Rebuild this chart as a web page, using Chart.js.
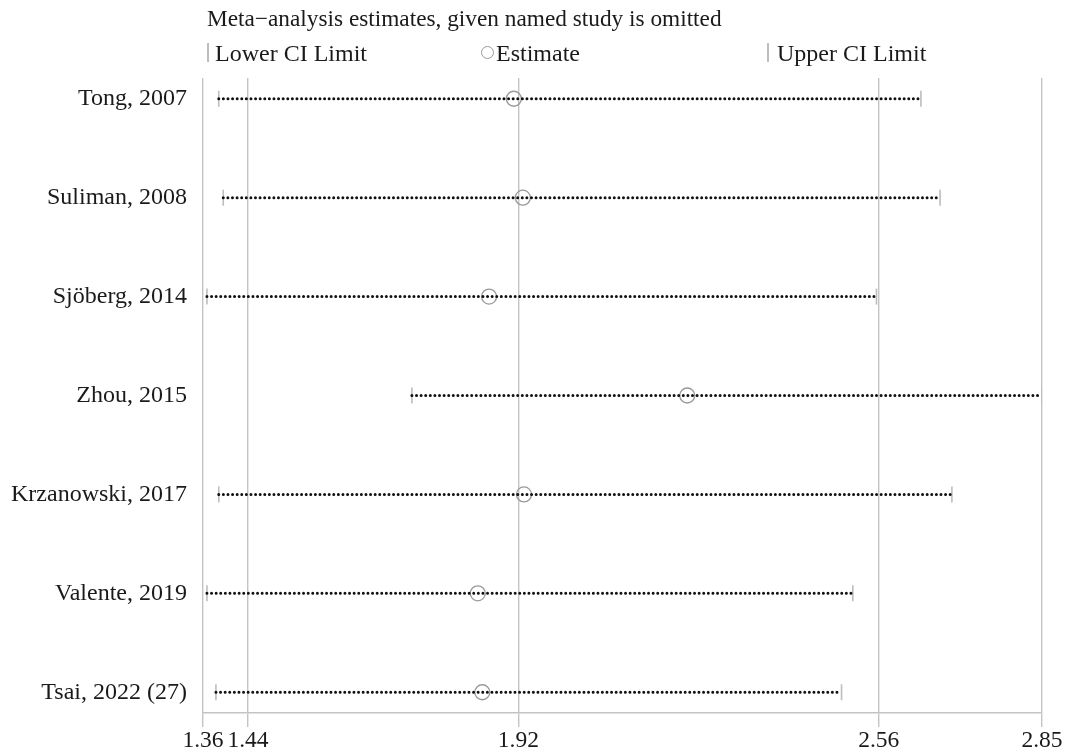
<!DOCTYPE html>
<html>
<head>
<meta charset="utf-8">
<script src="https://cdn.jsdelivr.net/npm/chart.js@4/dist/chart.umd.min.js"></script>
<style>
  html, body { margin: 0; padding: 0; background: #fff; }
  #wrap { position: relative; width: 1072px; height: 754px; }
  canvas { position: absolute; left: 0; top: 0; }
  .txt { position: absolute; font-family: "Liberation Serif", "Times New Roman", serif; color: #1a1a1a; white-space: nowrap; line-height: 1; }
  .bar { position: absolute; width: 1.5px; height: 19px; background: #bdbdbd; }
  .circ { position: absolute; width: 13px; height: 13px; border: 1.2px solid #999; border-radius: 50%; box-sizing: border-box; }
</style>
</head>
<body>
<div id="wrap">
  <canvas id="c" width="1072" height="754"></canvas>
  <div class="txt" style="left:207px; top:7px; font-size:23.3px;">Meta&minus;analysis estimates, given named study is omitted</div>
  <div class="bar" style="left:207px; top:43px;"></div>
  <div class="txt" style="left:215px; top:41px; font-size:24px;">Lower CI Limit</div>
  <div class="circ" style="left:481px; top:46px;"></div>
  <div class="txt" style="left:496px; top:41px; font-size:24px;">Estimate</div>
  <div class="bar" style="left:767px; top:43px;"></div>
  <div class="txt" style="left:777px; top:41px; font-size:24px;">Upper CI Limit</div>
</div>
<script>
  // Datos
  const STUDIES = ["Tong, 2007", "Suliman, 2008", "Sjöberg, 2014", "Zhou, 2015", "Krzanowski, 2017", "Valente, 2019", "Tsai, 2022 (27)"];
  const LOWER = [1.388, 1.396, 1.367, 1.731, 1.388, 1.367, 1.383];
  const ESTIMATE = [1.912, 1.928, 1.868, 2.220, 1.930, 1.848, 1.856];
  const UPPER = [2.635, 2.669, 2.556, 2.850, 2.690, 2.514, 2.494];
  const X_TICKS = [1.36, 1.44, 1.92, 2.56, 2.85];

  const FONT = "'Liberation Serif', 'Times New Roman', serif";
  const GREY = "#c4c4c4";

  const datasets = [];
  // Líneas punteadas de cada intervalo
  STUDIES.forEach((s, i) => {
    datasets.push({
      type: "line",
      data: [{ x: LOWER[i], y: i }, { x: UPPER[i], y: i }],
      borderColor: "#111", borderWidth: 3, borderDash: [0, 4.6], borderCapStyle: "round",
      pointRadius: 0, fill: false,
    });
  });
  datasets.push({
    type: "scatter", data: STUDIES.map((s, i) => ({ x: LOWER[i], y: i })),
    pointStyle: "line", rotation: 90, radius: 8, borderColor: "#bdbdbd", borderWidth: 1.6,
  });
  datasets.push({
    type: "scatter", data: STUDIES.map((s, i) => ({ x: UPPER[i], y: i })),
    pointStyle: "line", rotation: 90, radius: 8, borderColor: "#bdbdbd", borderWidth: 1.6,
  });
  datasets.push({
    type: "scatter", data: STUDIES.map((s, i) => ({ x: ESTIMATE[i], y: i })),
    pointStyle: "circle", radius: 7.5, borderColor: "#999", backgroundColor: "rgba(0,0,0,0)", borderWidth: 1.3,
  });

  new Chart(document.getElementById("c"), {
    type: "scatter",
    data: { datasets },
    options: {
      responsive: false, animation: false,
      layout: { padding: { top: 78, right: 30, left: 0, bottom: 0 } },
      plugins: { legend: { display: false }, tooltip: { enabled: false } },
      scales: {
        x: {
          type: "linear", min: 1.36, max: 2.85,
          afterBuildTicks: (ax) => { ax.ticks = X_TICKS.map((v) => ({ value: v })); },
          afterFit: (ax) => { ax.height = 41; },
          grid: { color: GREY, lineWidth: 1.4, tickLength: 14, drawTicks: true },
          border: { color: GREY, width: 1.4 },
          ticks: { color: "#1a1a1a", font: { family: FONT, size: 23.5 }, padding: 0, maxRotation: 0, autoSkip: false,
            callback: (v) => v.toFixed(2) },
        },
        y: {
          type: "linear", min: -0.21, max: 6.21, reverse: true,
          afterBuildTicks: (ax) => { ax.ticks = STUDIES.map((s, i) => ({ value: i })); },
          afterFit: (ax) => { ax.width = 203; },
          grid: { display: false, drawTicks: false },
          border: { display: false },
          ticks: { color: "#1a1a1a", font: { family: FONT, size: 24 }, padding: 16,
            callback: (v) => STUDIES[v] },
        },
      },
    },
  });
</script>
</body>
</html>
